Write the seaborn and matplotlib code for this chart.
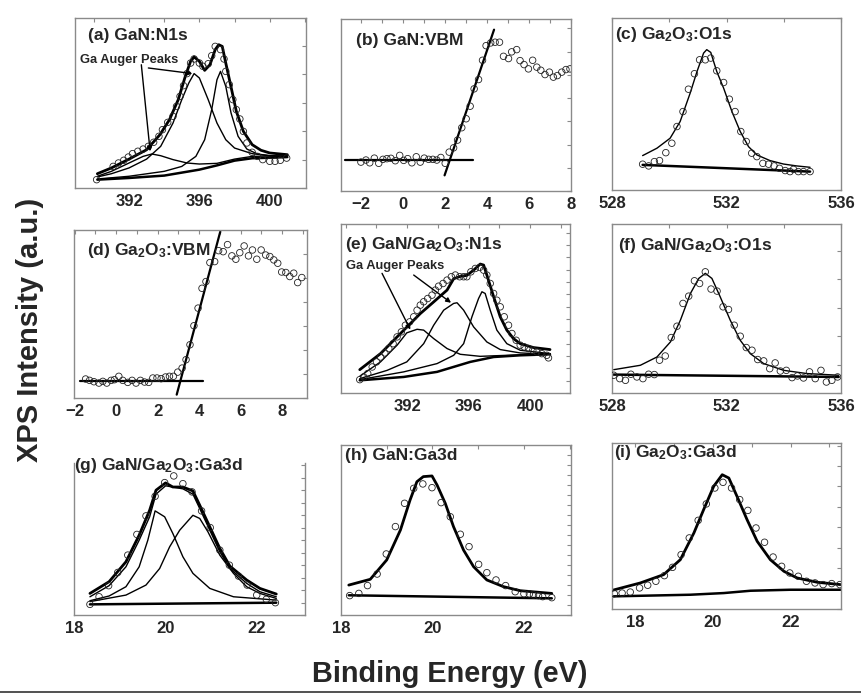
import seaborn as sns
import matplotlib.pyplot as plt
from matplotlib.ticker import MultipleLocator, FixedLocator
from matplotlib.lines import Line2D

# ---------------- data (binding energy in eV, intensity in arb. units) ----------------
# (a) GaN:N1s
a_pts_x = [390.16, 391.1, 391.4, 391.7, 391.96, 392.2, 392.5, 392.8, 393.1, 393.4, 393.7, 393.9, 394.2, 394.5,
           394.7, 394.9, 395.1, 395.3, 395.5, 395.7, 396.0, 396.2, 396.5, 396.7, 396.9, 397.2, 397.4, 397.5,
           397.7, 397.9, 398.1, 398.3, 398.5, 398.7, 399.0, 399.3, 399.6, 400.0, 400.3, 400.6, 400.96]
a_pts_y = [4.9, 12.7, 14.7, 16.3, 18.2, 20.2, 21.6, 22.9, 24.5, 26.9, 30.4, 34.3, 38.6, 42.2, 48, 53.9, 60.2,
           67.3, 73.5, 75.9, 73.5, 71.6, 73.1, 77.8, 83.3, 81.4, 75.9, 68.6, 60.8, 52, 46.1, 40.6, 33.3, 26.5,
           21, 18.6, 16.7, 15.7, 15.7, 16.3, 17.6]
a_env_x = [390.2, 391.0, 392.0, 393.0, 393.76, 394.3, 394.8, 395.2, 395.5, 395.7, 396.0, 396.3, 396.6, 396.9,
           397.1, 397.3, 397.5, 397.8, 398.1, 398.5, 399.0, 399.5, 400.0, 401.0]
a_env_y = [8.4, 11.8, 17, 22.5, 31.4, 40.2, 52, 65.7, 74.5, 77.1, 74.5, 69.2, 72.5, 81.4, 84.3, 83.3, 73.5,
           59.4, 45.1, 33.3, 25.5, 22.2, 20.6, 19.6]
a_aug1_x = [390.2, 391.0, 392.0, 392.8, 393.3, 393.8, 394.5, 395.3, 396.0, 397.0, 398.0, 399.0, 400.0, 401.0]
a_aug1_y = [6.9, 9.8, 14.7, 18.6, 20.0, 19.0, 16.7, 14.7, 14.1, 14.5, 17.0, 18.6, 18.8, 18.8]
a_aug2_x = [390.2, 391, 392, 393, 393.8, 394.5, 395, 395.4, 395.7, 396.0, 396.5, 397, 397.5, 398, 399, 400, 401]
a_aug2_y = [6.5, 8.4, 11.8, 17, 24.5, 38.2, 52, 61.8, 67.3, 64.7, 52, 38.2, 28.4, 23.5, 20.2, 19, 18.6]
a_n1s_x = [390.2, 392, 394, 395, 395.8, 396.3, 396.7, 397.0, 397.2, 397.5, 397.8, 398.2, 398.7, 399.3, 400, 401]
a_n1s_y = [5.3, 6.9, 9.8, 12.7, 18.6, 28.4, 46.1, 63.7, 68.6, 59.8, 44.1, 30.4, 22.9, 20, 19, 18.6]
a_bg_x = [390.2, 392, 394, 396, 397, 398, 399, 400, 401]
a_bg_y = [4.9, 5.9, 7.3, 10.8, 13.3, 16.1, 17.5, 17.8, 18.2]

# (b) GaN:VBM
b_pts_x = [-2.02, -1.78, -1.60, -1.38, -1.17, -0.97, -0.78, -0.59, -0.38, -0.17, 0.02, 0.21, 0.41, 0.62, 0.81,
           1.0, 1.21, 1.41, 1.60, 1.79, 2.0, 2.19, 2.40, 2.59, 2.79, 3.0, 3.19, 3.38, 3.59, 3.78, 3.95, 4.17,
           4.38, 4.59, 4.78, 5.02, 5.17, 5.41, 5.57, 5.76, 5.97, 6.17, 6.37, 6.56, 6.76, 6.97, 7.16, 7.35, 7.56,
           7.76, 7.95]
b_pts_y = [16.8, 18.0, 16.4, 19.1, 16.1, 18.4, 18.8, 19.0, 17.6, 20.7, 17.8, 18.8, 16.4, 19.9, 16.8, 19.1,
           18.4, 18.4, 18.0, 19.5, 16.1, 22.6, 25.1, 29.6, 36.8, 42.0, 49.3, 59.4, 64.8, 76.0, 84.5, 86.1, 86.5,
           86.5, 78.3, 77.0, 80.9, 82.2, 75.8, 73.5, 71.0, 76.0, 72.0, 70.2, 67.7, 69.1, 66.2, 67.1, 69.1, 70.6,
           71.0]
b_base_x = [-2.76, 3.32]
b_base_y = [17.8, 17.8]
b_fit_x = [1.97, 4.33]
b_fit_y = [9.1, 93.8]

# (c) Ga2O3:O1s
c_pts_x = [529.07, 529.28, 529.48, 529.66, 529.88, 530.09, 530.27, 530.48, 530.67, 530.88, 531.06, 531.26,
           531.45, 531.66, 531.9, 532.1, 532.3, 532.5, 532.69, 532.88, 533.06, 533.27, 533.47, 533.66, 533.85,
           534.05, 534.22, 534.34, 534.51, 534.69, 534.92]
c_pts_y = [15.0, 14.0, 16.5, 17.1, 21.7, 27.2, 36.9, 45.6, 58.6, 67.6, 75.7, 75.7, 76.7, 69.3, 62.5, 52.8,
           45.6, 34.0, 28.2, 21.4, 19.4, 15.5, 15.0, 14.0, 12.6, 11.3, 10.7, 12.0, 10.7, 10.7, 10.7]
c_fit_x = [529.07, 529.57, 530.03, 530.38, 530.73, 530.97, 531.2, 531.31, 531.45, 531.66, 531.9, 532.19,
           532.48, 532.77, 533.06, 533.52, 533.99, 534.45, 534.92]
c_fit_y = [20.0, 24.3, 30.1, 39.8, 56.3, 68.9, 79.6, 81.6, 80.0, 68.9, 59.2, 45.6, 34.0, 25.2, 20.4, 17.1,
           15.1, 14.0, 13.2]
c_bg_x = [529.07, 534.92]
c_bg_y = [14.6, 10.7]

# (d) Ga2O3:VBM
d_pts_x = [-1.47, -1.28, -1.07, -0.83, -0.64, -0.45, -0.24, -0.08, 0.13, 0.32, 0.56, 0.77, 0.96, 1.17, 1.37,
           1.57, 1.77, 1.97, 2.17, 2.38, 2.57, 2.76, 2.97, 3.18, 3.37, 3.56, 3.75, 3.95, 4.14, 4.33, 4.52, 4.75,
           4.94, 5.16, 5.37, 5.58, 5.77, 5.96, 6.17, 6.38, 6.57, 6.78, 6.99, 7.21, 7.41, 7.60, 7.79, 7.98, 8.18,
           8.37, 8.56, 8.75, 8.95]
d_pts_y = [11.3, 10.5, 9.7, 8.9, 9.9, 8.9, 10.5, 10.9, 12.9, 10.5, 9.3, 10.5, 8.9, 10.5, 9.5, 9.3, 11.9, 11.9,
           11.5, 12.5, 12.9, 12.9, 15.4, 17.8, 22.8, 31.7, 43.0, 53.5, 65.3, 69.3, 80.6, 81.2, 87.7, 87.1, 91.3,
           84.6, 82.6, 86.5, 90.5, 84.6, 88.1, 82.6, 88.1, 85.1, 84.2, 82.2, 80.2, 75.0, 74.7, 72.3, 74.3, 68.7,
           71.7]
d_base_x = [-1.73, 4.17]
d_base_y = [9.9, 9.9]
d_fit_x = [2.92, 5.02]
d_fit_y = [2.0, 99.0]

# (e) GaN/Ga2O3:N1s
e_pts_x = [388.92, 389.18, 389.44, 389.73, 390.01, 390.27, 390.55, 390.81, 391.09, 391.35, 391.63, 391.89,
           392.17, 392.43, 392.65, 392.86, 393.08, 393.34, 393.62, 393.84, 394.05, 394.34, 394.60, 394.88,
           395.14, 395.42, 395.68, 395.89, 396.15, 396.44, 396.72, 396.98, 397.19, 397.41, 397.63, 397.84,
           398.06, 398.32, 398.60, 398.82, 399.10, 399.36, 399.62, 399.90, 400.18, 400.44, 400.76, 401.09, 401.20]
e_pts_y = [7.9, 9.5, 11.5, 15.4, 18.4, 21.3, 23.7, 26.3, 29.2, 33.2, 36.2, 40.1, 42.1, 45.1, 49.0, 52.0, 54.0,
           55.9, 57.9, 60.9, 63.2, 64.8, 66.8, 68.8, 69.8, 68.8, 68.8, 68.8, 71.7, 73.7, 74.3, 72.7, 69.8, 64.8,
           58.9, 54.9, 51.0, 45.1, 40.1, 35.2, 31.2, 28.3, 27.3, 26.3, 25.3, 24.3, 23.3, 22.3, 20.8]
e_env_x = [388.92, 390.27, 391.57, 392.86, 393.73, 394.6, 395.03, 395.46, 395.89, 396.33, 396.76, 396.98,
           397.19, 397.63, 398.06, 398.49, 398.92, 399.36, 400.22, 401.3]
e_env_y = [13.8, 23.3, 35.2, 47.0, 53.9, 60.9, 67.6, 69.0, 69.6, 72.7, 76.3, 75.7, 69.8, 57.0, 45.1, 37.2,
           32.2, 29.2, 26.9, 25.7]
e_aug1_x = [388.92, 390.27, 391.35, 391.98, 392.65, 393.08, 393.73, 394.6, 395.46, 396.76, 398.49, 401.3]
e_aug1_y = [9.9, 18.4, 28.3, 35.6, 37.7, 37.2, 32.2, 26.3, 22.9, 21.7, 22.3, 23.3]
e_aug2_x = [388.92, 390.7, 391.98, 393.08, 393.73, 394.38, 395.03, 395.25, 395.68, 396.33, 397.19, 398.06,
            399.36, 401.3]
e_aug2_y = [8.5, 13.4, 18.4, 29.2, 40.1, 49.0, 53.0, 53.4, 49.0, 39.1, 30.2, 25.7, 23.7, 22.9]
e_n1s_x = [388.92, 391.78, 393.95, 395.03, 395.68, 396.22, 396.65, 396.87, 397.08, 397.41, 397.84, 398.49,
           399.36, 401.3]
e_n1s_y = [7.9, 12.5, 17.4, 22.3, 29.2, 45.1, 55.9, 59.9, 58.9, 49.0, 37.2, 29.2, 25.3, 23.3]
e_bg_x = [388.92, 391.78, 393.95, 396.11, 397.63, 399.36, 401.3]
e_bg_y = [7.5, 9.5, 12.5, 18.4, 21.3, 22.3, 22.9]

# (f) GaN/Ga2O3:O1s
f_pts_x = [528.06, 528.27, 528.47, 528.66, 528.87, 529.08, 529.28, 529.48, 529.66, 529.86, 530.07, 530.27,
           530.48, 530.68, 530.88, 531.06, 531.26, 531.46, 531.67, 531.88, 532.07, 532.27, 532.48, 532.69,
           532.89, 533.09, 533.30, 533.51, 533.70, 533.88, 534.09, 534.29, 534.48, 534.69, 534.90, 535.10,
           535.30, 535.49, 535.68, 535.88]
f_pts_y = [10.5, 8.5, 7.5, 11.1, 9.5, 8.5, 11.1, 10.9, 19.4, 21.9, 32.8, 39.5, 53.0, 57.3, 66.4, 64.8, 71.7,
           61.5, 60.3, 51.0, 49.4, 40.1, 33.6, 26.9, 25.3, 19.8, 19.0, 14.4, 17.8, 13.0, 13.4, 9.1, 10.1, 8.9,
           12.5, 8.5, 13.4, 6.5, 7.5, 9.5]
f_fit_x = [528.06, 528.99, 529.57, 530.04, 530.39, 530.74, 531.03, 531.26, 531.49, 531.78, 532.13, 532.48,
           532.83, 533.30, 534.0, 534.81, 535.92]
f_fit_y = [13.8, 16.4, 21.3, 30.2, 43.1, 58.9, 67.8, 70.8, 67.8, 56.9, 43.1, 31.2, 23.3, 17.4, 13.4, 11.5, 10.5]
f_bg_x = [528.0, 535.92]
f_bg_y = [10.9, 9.5]

# (g) GaN/Ga2O3:Ga3d
g_pts_x = [18.35, 18.55, 18.76, 18.96, 19.18, 19.38, 19.58, 19.78, 19.99, 20.19, 20.39, 20.59, 20.80, 20.99,
           21.20, 21.41, 21.61, 21.80, 22.01, 22.22, 22.42]
g_pts_y = [7.0, 12.0, 19.3, 28.0, 39.4, 53.0, 65.2, 78.1, 87.1, 91.5, 86.4, 81.0, 68.5, 57.5, 42.7, 32.8,
           25.6, 19.7, 13.1, 10.3, 8.1]
g_env_x = [18.35, 18.77, 19.14, 19.43, 19.66, 19.80, 20.01, 20.17, 20.39, 20.61, 20.76, 20.98, 21.20, 21.42,
           21.79, 22.08, 22.44]
g_env_y = [14.2, 21.9, 35.0, 52.5, 68.9, 82.1, 86.9, 84.2, 84.2, 81.6, 72.2, 58.0, 43.8, 32.2, 23.0, 17.5, 13.8]
g_sum_x = [18.35, 18.77, 19.14, 19.43, 19.66, 19.80, 20.01, 20.39, 20.61, 20.76, 20.98, 21.20, 21.42, 21.79,
           22.08, 22.44]
g_sum_y = [12.0, 19.3, 31.7, 49.2, 64.6, 79.5, 85.0, 83.0, 79.5, 70.0, 55.8, 41.6, 30.6, 20.8, 15.3, 12.0]
g_c1_x = [18.35, 18.77, 19.14, 19.43, 19.62, 19.73, 19.78, 19.99, 20.17, 20.39, 20.61, 20.98, 21.5, 22.44]
g_c1_y = [9.4, 12.5, 18.6, 31.7, 49.2, 62.4, 68.5, 64.6, 53.6, 38.3, 27.4, 17.5, 12.0, 9.8]
g_c2_x = [18.35, 19.14, 19.58, 19.88, 20.1, 20.32, 20.61, 20.76, 20.94, 21.20, 21.50, 21.79, 22.08, 22.44]
g_c2_y = [8.8, 13.1, 19.7, 30.6, 44.9, 55.8, 65.6, 63.5, 54.7, 39.4, 27.4, 18.6, 14.2, 10.9]
g_bg_x = [18.35, 22.44]
g_bg_y = [7.0, 8.1]

# (h) GaN:Ga3d
h_pts_x = [18.19, 18.39, 18.58, 18.79, 18.99, 19.19, 19.39, 19.59, 19.79, 19.99, 20.19, 20.39, 20.61, 20.80,
           21.01, 21.19, 21.39, 21.60, 21.81, 22.0, 22.12, 22.21, 22.32, 22.41, 22.61]
h_pts_y = [11.4, 12.7, 17.3, 24.1, 35.9, 52.0, 65.7, 74.5, 77.1, 74.9, 66.1, 57.8, 47.5, 40.2, 29.8, 24.9,
           20.6, 17.3, 13.7, 12.5, 12.4, 11.8, 11.4, 10.8, 10.2]
h_fit_x = [18.17, 18.64, 19.0, 19.3, 19.51, 19.66, 19.80, 19.99, 20.10, 20.28, 20.46, 20.68, 20.90, 21.19,
           21.55, 21.92, 22.61]
h_fit_y = [17.6, 21.0, 32.4, 50.0, 67.6, 78.4, 81.4, 81.8, 76.5, 65.7, 52.0, 38.2, 28.4, 20.6, 16.7, 14.3, 12.7]
h_bg_x = [18.17, 22.61]
h_bg_y = [11.6, 9.8]

# (i) Ga2O3:Ga3d
i_pts_x = [17.46, 17.66, 17.87, 18.11, 18.32, 18.53, 18.75, 18.96, 19.18, 19.39, 19.62, 19.83, 20.05, 20.26,
           20.48, 20.69, 20.90, 21.11, 21.33, 21.55, 21.77, 21.98, 22.20, 22.41, 22.63, 22.84, 23.06, 23.27]
i_pts_y = [9.2, 9.6, 10.2, 12.7, 14.3, 16.7, 20.1, 25.1, 32.7, 42.8, 53.4, 63.3, 72.9, 76.3, 72.9, 65.9, 59.4,
           48.8, 40.2, 31.3, 25.7, 21.7, 19.7, 16.7, 15.7, 14.7, 15.3, 14.7]
i_fit_x = [17.4, 18.13, 18.73, 19.16, 19.51, 19.76, 20.02, 20.24, 20.41, 20.62, 20.88, 21.14, 21.48, 21.83,
           22.17, 22.69, 23.29]
i_fit_y = [11.2, 15.7, 20.7, 29.7, 45.8, 59.8, 73.9, 80.9, 78.9, 67.9, 53.8, 40.8, 29.7, 22.7, 18.7, 16.1, 14.7]
i_bg_x = [17.4, 19.42, 20.28, 20.97, 22.0, 23.29]
i_bg_y = [7.6, 8.6, 9.6, 11.0, 11.6, 11.6]

titles = {
    'a': '(a) GaN:N1s', 'b': '(b) GaN:VBM', 'c': '(c) Ga$_2$O$_3$:O1s',
    'd': '(d) Ga$_2$O$_3$:VBM', 'e': '(e) GaN/Ga$_2$O$_3$:N1s', 'f': '(f) GaN/Ga$_2$O$_3$:O1s',
    'g': '(g) GaN/Ga$_2$O$_3$:Ga3d', 'h': '(h) GaN:Ga3d', 'i': '(i) Ga$_2$O$_3$:Ga3d',
}

# ---------------- style ----------------
sns.set_style("white")
plt.rcParams['font.family'] = ['Liberation Sans', 'DejaVu Sans']
plt.rcParams['font.weight'] = 'bold'
plt.rcParams['mathtext.fontset'] = 'custom'
plt.rcParams['mathtext.bf'] = 'Liberation Sans:bold'
plt.rcParams['mathtext.rm'] = 'Liberation Sans:bold'
plt.rcParams['mathtext.default'] = 'bf'

W, H = 862, 694
fig = plt.figure(figsize=(W / 100, H / 100), dpi=100)

# panel boxes in pixels: left, top, right, bottom
boxes = {
    'a': (75, 18, 306, 188), 'b': (341, 19, 571, 191), 'c': (612, 18, 841, 190),
    'd': (74, 230, 307, 398), 'e': (341, 224, 570, 393), 'f': (612, 224, 841, 393),
    'g': (74, 463, 305, 615), 'h': (341, 445, 571, 615), 'i': (612, 443, 841, 609),
}
xlims = {'a': (388.93, 402.06), 'b': (-2.97, 8.0), 'c': (528, 536), 'd': (-2.03, 9.2),
         'e': (387.7, 402.6), 'f': (528, 536), 'g': (18, 23.07), 'h': (18, 23.03), 'i': (17.4, 23.3)}
majors = {'a': [392, 396, 400], 'b': [-2, 0, 2, 4, 6, 8], 'c': [528, 532, 536], 'd': [-2, 0, 2, 4, 6, 8],
          'e': [392, 396, 400], 'f': [528, 532, 536], 'g': [18, 20, 22], 'h': [18, 20, 22], 'i': [18, 20, 22]}
minors = {'a': 2, 'b': 1, 'c': 2, 'd': 1, 'e': 2, 'f': 2, 'g': 1, 'h': 1, 'i': 1}
ysteps = {'a': 16.7, 'b': 13.5, 'c': 100, 'd': 14.3, 'e': 7.3, 'f': 16.8, 'g': 8.2, 'h': 5.9, 'i': 12.3}
title_pos = {'a': (0.056, 0.872), 'b': (0.066, 0.851), 'c': (0.015, 0.878), 'd': (0.055, 0.851),
             'e': (0.019, 0.85), 'f': (0.027, 0.846), 'g': (0.0, 0.957), 'h': (0.019, 0.912), 'i': (0.01, 0.913)}

SPINE = '#8a8a8a'
axes = {}
for key, (l, t, r, b) in boxes.items():
    ax = fig.add_axes([l / W, 1 - b / H, (r - l) / W, (b - t) / H])
    ax.set_xlim(*xlims[key])
    ax.set_ylim(0, 100)
    ax.xaxis.set_major_locator(FixedLocator(majors[key]))
    ax.xaxis.set_minor_locator(MultipleLocator(minors[key]))
    ax.yaxis.set_major_locator(MultipleLocator(ysteps[key]))
    ax.set_yticklabels([])
    ax.tick_params(axis='both', which='both', direction='in', color=SPINE, length=3, width=0.8,
                   top=True, right=True)
    ax.tick_params(axis='x', which='major', labelsize=12, pad=4)
    for lbl in ax.get_xticklabels():
        lbl.set_fontweight('bold')
    for s in ax.spines.values():
        s.set_color(SPINE)
        s.set_linewidth(1.0)
    if key == 'g':
        ax.spines['top'].set_visible(False)
        ax.tick_params(axis='x', which='both', top=False)
    ax.text(*title_pos[key], titles[key], transform=ax.transAxes, fontsize=12.5, fontweight='bold',
            ha='left', va='baseline', zorder=10)
    axes[key] = ax


def pts(ax, x, y):
    sns.scatterplot(x=x, y=y, ax=ax, marker='o', s=22, color='none', edgecolor='#222222',
                    linewidth=0.6, zorder=3)
    ax.collections[-1].set_facecolor('none')


def line(ax, x, y, lw):
    sns.lineplot(x=x, y=y, ax=ax, color='black', lw=lw, sort=False, estimator=None)


ARROW = dict(arrowstyle='-|>', color='black', lw=1, mutation_scale=7, shrinkA=0, shrinkB=0)

# (a)
ax = axes['a']
pts(ax, a_pts_x, a_pts_y)
line(ax, a_bg_x, a_bg_y, 1.8)
line(ax, a_aug1_x, a_aug1_y, 1.0)
line(ax, a_aug2_x, a_aug2_y, 1.0)
line(ax, a_n1s_x, a_n1s_y, 1.0)
line(ax, a_env_x, a_env_y, 2.0)
ax.text(389.22, 75.5, 'Ga Auger Peaks', fontsize=9.3, fontweight='bold', va='center', ha='left')
ax.annotate('', xy=(393.2, 21.6), xytext=(392.7, 72.5), arrowprops=ARROW)
ax.annotate('', xy=(395.6, 67.3), xytext=(393.1, 70.6), arrowprops=ARROW)

# (b)
ax = axes['b']
pts(ax, b_pts_x, b_pts_y)
line(ax, b_base_x, b_base_y, 1.6)
line(ax, b_fit_x, b_fit_y, 1.6)

# (c)
ax = axes['c']
pts(ax, c_pts_x, c_pts_y)
line(ax, c_fit_x, c_fit_y, 1.0)
line(ax, c_bg_x, c_bg_y, 1.8)

# (d)
ax = axes['d']
pts(ax, d_pts_x, d_pts_y)
line(ax, d_base_x, d_base_y, 1.6)
line(ax, d_fit_x, d_fit_y, 1.6)

# (e)
ax = axes['e']
pts(ax, e_pts_x, e_pts_y)
line(ax, e_bg_x, e_bg_y, 1.8)
line(ax, e_aug1_x, e_aug1_y, 1.0)
line(ax, e_aug2_x, e_aug2_y, 1.0)
line(ax, e_n1s_x, e_n1s_y, 1.0)
line(ax, e_env_x, e_env_y, 2.0)
ax.text(388.0, 75.1, 'Ga Auger Peaks', fontsize=9.3, fontweight='bold', va='center', ha='left')
ax.annotate('', xy=(392.21, 37.5), xytext=(390.37, 70.8), arrowprops=ARROW)
ax.annotate('', xy=(394.86, 53.4), xytext=(392.43, 69.8), arrowprops=ARROW)

# (f)
ax = axes['f']
pts(ax, f_pts_x, f_pts_y)
line(ax, f_fit_x, f_fit_y, 1.0)
line(ax, f_bg_x, f_bg_y, 1.8)

# (g)
ax = axes['g']
pts(ax, g_pts_x, g_pts_y)
line(ax, g_bg_x, g_bg_y, 1.8)
line(ax, g_c1_x, g_c1_y, 1.0)
line(ax, g_c2_x, g_c2_y, 1.0)
line(ax, g_sum_x, g_sum_y, 1.0)
line(ax, g_env_x, g_env_y, 2.0)

# (h)
ax = axes['h']
pts(ax, h_pts_x, h_pts_y)
line(ax, h_bg_x, h_bg_y, 1.8)
line(ax, h_fit_x, h_fit_y, 2.0)

# (i)
ax = axes['i']
pts(ax, i_pts_x, i_pts_y)
line(ax, i_bg_x, i_bg_y, 1.8)
line(ax, i_fit_x, i_fit_y, 2.0)

# shared labels
fig.text(30 / W, 1 - 330 / H, 'XPS Intensity (a.u.)', rotation=90, fontsize=21, fontweight='bold',
         ha='center', va='center')
fig.text(450 / W, 1 - 674 / H, 'Binding Energy (eV)', fontsize=20.8, fontweight='bold',
         ha='center', va='center')
fig.add_artist(Line2D([0, 1], [1 - 691.5 / H, 1 - 691.5 / H], transform=fig.transFigure,
                      color='#333333', lw=1.2))

fig.savefig('out.png', dpi=100)
